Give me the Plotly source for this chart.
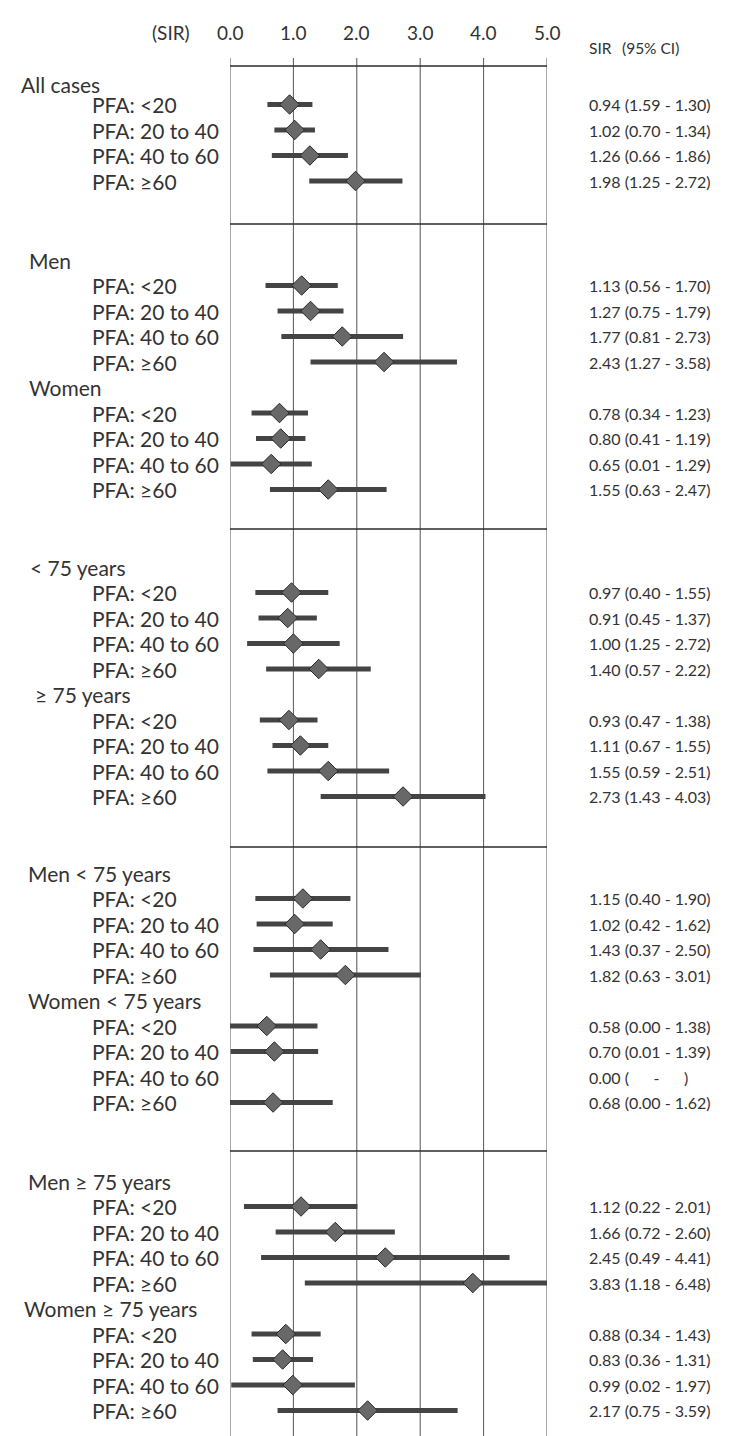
import plotly.graph_objects as go

# ---------------- data ----------------
subgroups = ["All cases", "Men", "Women", "&lt; 75 years", "≥ 75 years",
             "Men &lt; 75 years", "Women &lt; 75 years",
             "Men ≥ 75 years", "Women ≥ 75 years"]
panel_of_subgroup = [0, 1, 1, 2, 2, 3, 3, 4, 4]
pfa_levels = ["PFA: &lt;20", "PFA: 20 to 40", "PFA: 40 to 60", "PFA: ≥60"]

sir = [0.94, 1.02, 1.26, 1.98,
       1.13, 1.27, 1.77, 2.43,
       0.78, 0.80, 0.65, 1.55,
       0.97, 0.91, 1.00, 1.40,
       0.93, 1.11, 1.55, 2.73,
       1.15, 1.02, 1.43, 1.82,
       0.58, 0.70, None, 0.68,
       1.12, 1.66, 2.45, 3.83,
       0.88, 0.83, 0.99, 2.17]
ci_lo = [0.59, 0.70, 0.66, 1.25,
         0.56, 0.75, 0.81, 1.27,
         0.34, 0.41, 0.01, 0.63,
         0.40, 0.45, 0.27, 0.57,
         0.47, 0.67, 0.59, 1.43,
         0.40, 0.42, 0.37, 0.63,
         0.00, 0.01, None, 0.00,
         0.22, 0.72, 0.49, 1.18,
         0.34, 0.36, 0.02, 0.75]
ci_hi = [1.30, 1.34, 1.86, 2.72,
         1.70, 1.79, 2.73, 3.58,
         1.23, 1.19, 1.29, 2.47,
         1.55, 1.37, 1.73, 2.22,
         1.38, 1.55, 2.51, 4.03,
         1.90, 1.62, 2.50, 3.01,
         1.38, 1.39, None, 1.62,
         2.01, 2.60, 4.41, 6.48,
         1.43, 1.31, 1.97, 3.59]
ci_text = ["0.94 (1.59 - 1.30)", "1.02 (0.70 - 1.34)", "1.26 (0.66 - 1.86)", "1.98 (1.25 - 2.72)",
           "1.13 (0.56 - 1.70)", "1.27 (0.75 - 1.79)", "1.77 (0.81 - 2.73)", "2.43 (1.27 - 3.58)",
           "0.78 (0.34 - 1.23)", "0.80 (0.41 - 1.19)", "0.65 (0.01 - 1.29)", "1.55 (0.63 - 2.47)",
           "0.97 (0.40 - 1.55)", "0.91 (0.45 - 1.37)", "1.00 (1.25 - 2.72)", "1.40 (0.57 - 2.22)",
           "0.93 (0.47 - 1.38)", "1.11 (0.67 - 1.55)", "1.55 (0.59 - 2.51)", "2.73 (1.43 - 4.03)",
           "1.15 (0.40 - 1.90)", "1.02 (0.42 - 1.62)", "1.43 (0.37 - 2.50)", "1.82 (0.63 - 3.01)",
           "0.58 (0.00 - 1.38)", "0.70 (0.01 - 1.39)", "0.00 (\u00a0\u00a0\u00a0\u00a0\u00a0\u00a0-\u00a0\u00a0\u00a0\u00a0\u00a0\u00a0)", "0.68 (0.00 - 1.62)",
           "1.12 (0.22 - 2.01)", "1.66 (0.72 - 2.60)", "2.45 (0.49 - 4.41)", "3.83 (1.18 - 6.48)",
           "0.88 (0.34 - 1.43)", "0.83 (0.36 - 1.31)", "0.99 (0.02 - 1.97)", "2.17 (0.75 - 3.59)"]
x_ticks = [0, 1, 2, 3, 4, 5]
x_tick_labels = ["0.0", "1.0", "2.0", "3.0", "4.0", "5.0"]

# ---------------- layout geometry (pixels) ----------------
W, H = 731, 1436
X0, X1 = 222, 539            # plot-area left/right (0.0 and 5.0)
panel_header_y = [71, 252, 559, 865, 1173]
panel_header_nudge = [5, 0, 0, 0, 0]
pitch = 25.5
separators_y = [58, 216, 521, 839, 1143]
grid_top = 50
header_x = [11, 19, 19, 20, 25, 18, 18, 18, 14]
pfa_x = 82
ci_x = 579
FONT = "Lato"
TXT = "#333333"

# compute vertical positions of headers and rows
header_y = []
header_text_y = []
row_y = []
seen = {}
for gi, p in enumerate(panel_of_subgroup):
    k0 = seen.get(p, 0)
    hy = panel_header_y[p] + k0 * pitch
    header_y.append(hy)
    header_text_y.append(hy + (panel_header_nudge[p] if k0 == 0 else 0))
    for j in range(len(pfa_levels)):
        row_y.append(hy + (j + 1) * pitch)
    seen[p] = k0 + 1 + len(pfa_levels)

# ---------------- figure ----------------
pts_x, pts_y, e_plus, e_minus = [], [], [], []
for i, v in enumerate(sir):
    if v is None:
        continue
    pts_x.append(v)
    pts_y.append(row_y[i])
    e_plus.append(ci_hi[i] - v)
    e_minus.append(v - ci_lo[i])

fig = go.Figure()
fig.add_trace(go.Scatter(
    x=pts_x, y=pts_y, mode="markers",
    marker=dict(symbol="diamond", size=15, color="#686868",
                line=dict(color="#2a2a2a", width=1)),
    error_x=dict(type="data", symmetric=False, array=e_plus, arrayminus=e_minus,
                 thickness=5, width=0, color="#444444"),
    hoverinfo="skip", showlegend=False,
))

shapes = []
for v in x_ticks:
    shapes.append(dict(type="line", xref="x", yref="y", x0=v, x1=v, y0=grid_top, y1=H,
                       line=dict(color="#555555", width=1), layer="below"))
for sy in separators_y:
    shapes.append(dict(type="line", xref="x", yref="y", x0=0, x1=5, y0=sy, y1=sy,
                       line=dict(color="#2b2b2b", width=1.5), layer="below"))

ann = []
for v, t in zip(x_ticks, x_tick_labels):
    ann.append(dict(x=v, y=24, xref="x", yref="y", text=t, showarrow=False,
                    xanchor="center", yanchor="middle", font=dict(family=FONT, size=19, color=TXT)))
ann.append(dict(x=163 / W, y=24, xref="paper", yref="y", text="(SIR)", showarrow=False,
                xanchor="center", yanchor="middle", font=dict(family=FONT, size=19, color=TXT)))
ann.append(dict(x=ci_x / W, y=40, xref="paper", yref="y", text="SIR", showarrow=False,
                xanchor="left", yanchor="middle", font=dict(family=FONT, size=15.5, color=TXT)))
ann.append(dict(x=612 / W, y=40, xref="paper", yref="y", text="(95% CI)", showarrow=False,
                xanchor="left", yanchor="middle", font=dict(family=FONT, size=15.5, color=TXT)))
for name, hy, hx in zip(subgroups, header_text_y, header_x):
    ann.append(dict(x=hx / W, y=hy, xref="paper", yref="y", text=name, showarrow=False,
                    xanchor="left", yanchor="middle", font=dict(family=FONT, size=21, color=TXT)))
for i, ry in enumerate(row_y):
    ann.append(dict(x=pfa_x / W, y=ry, xref="paper", yref="y", text=pfa_levels[i % 4], showarrow=False,
                    xanchor="left", yanchor="middle", font=dict(family=FONT, size=21, color=TXT)))
    ann.append(dict(x=ci_x / W, y=ry, xref="paper", yref="y", text=ci_text[i], showarrow=False,
                    xanchor="left", yanchor="middle", font=dict(family=FONT, size=16, color=TXT)))

fig.update_layout(
    width=W, height=H, autosize=False,
    margin=dict(l=0, r=0, t=0, b=0),
    paper_bgcolor="white", plot_bgcolor="white",
    xaxis=dict(range=[0, 5], domain=[X0 / W, X1 / W], visible=False, fixedrange=True),
    yaxis=dict(range=[H, 0], domain=[0, 1], visible=False, fixedrange=True),
    shapes=shapes, annotations=ann, showlegend=False,
)

fig.write_html("out.html")
